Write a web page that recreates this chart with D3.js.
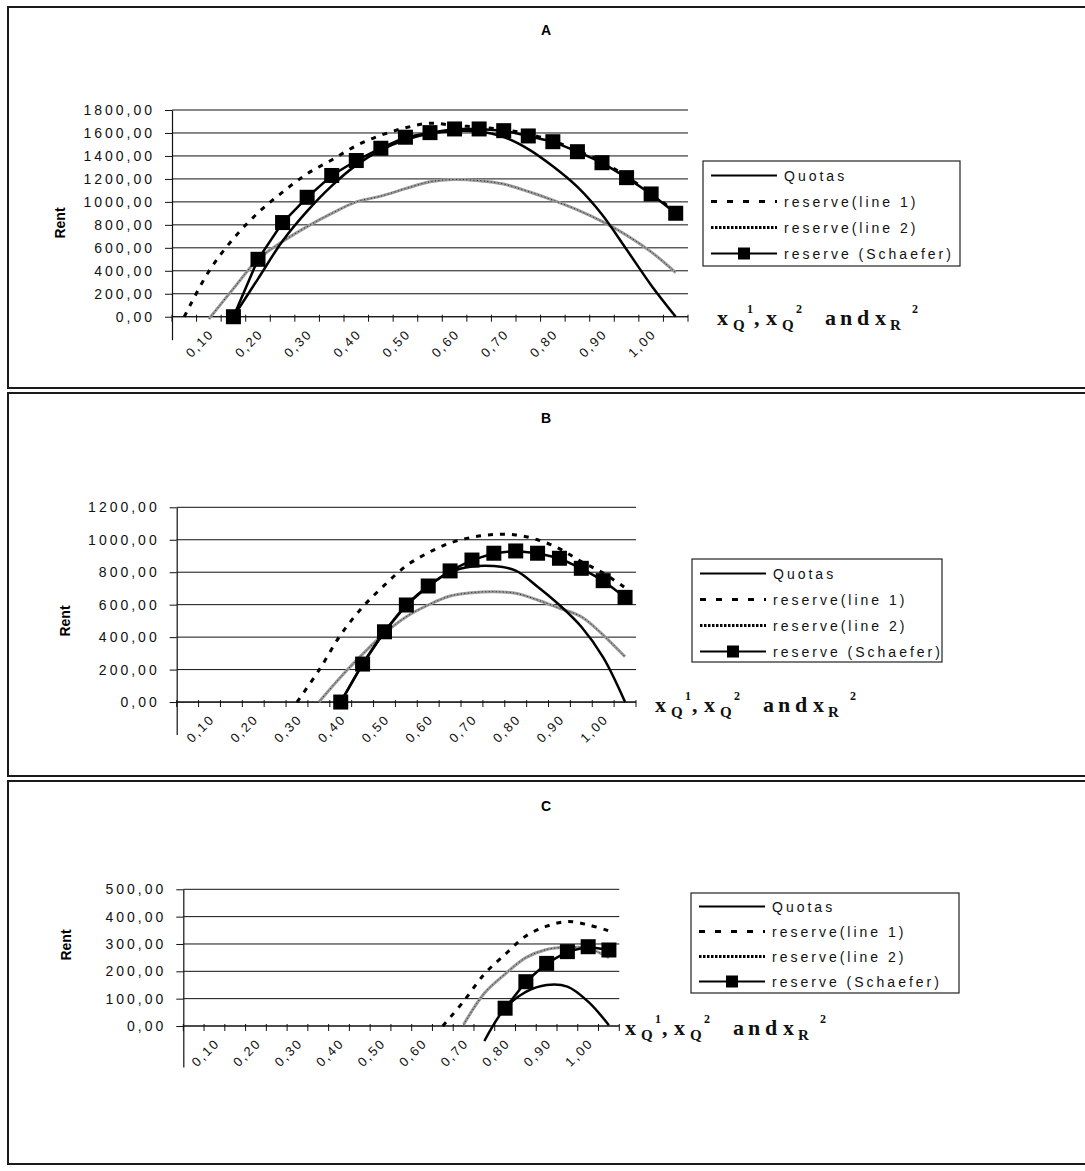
<!DOCTYPE html>
<html><head><meta charset="utf-8">
<script src="https://cdn.jsdelivr.net/npm/d3@7"></script>
<style>body{margin:0;background:#fff} svg{display:block} text{white-space:pre}</style>
</head><body>
<svg id="c" width="1085" height="1171"></svg>
<script>
// ---------- data ----------
const categories = ["0,05","0,10","0,15","0,20","0,25","0,30","0,35","0,40","0,45","0,50","0,55",
                    "0,60","0,65","0,70","0,75","0,80","0,85","0,90","0,95","1,00","1,05"];
const tickLabels = ["0,10","0,20","0,30","0,40","0,50","0,60","0,70","0,80","0,90","1,00"];
const seriesNames = ["Quotas","reserve(line 1)","reserve(line 2)","reserve (Schaefer)"];
const panelTitles = ["A","B","C"];
const yAxisTitle = "Rent";

// Panel A
const yTicksA = [0,200,400,600,800,1000,1200,1400,1600,1800];
const quotasA   = [null,null,0,330,660,920,1140,1320,1450,1540,1595,1618,1612,1565,1460,1310,1130,890,585,275,0];
const line1A    = [0,395,680,905,1085,1245,1365,1490,1580,1645,1685,1665,1650,1630,1590,1530,1445,1350,1220,1075,910];
const line2A    = [null,-20,245,500,655,785,900,1000,1050,1115,1175,1195,1185,1155,1090,1015,930,830,710,565,385];
const schaeferA = [null,null,0,500,820,1040,1230,1360,1467,1563,1603,1635,1635,1620,1574,1524,1437,1341,1211,1069,901];

// Panel B
const yTicksB = [0,200,400,600,800,1000,1200];
const quotasB   = [null,null,null,null,null,null,null,0,234,433,598,715,800,835,838,810,711,598,464,275,0];
const line1B    = [null,null,null,null,null,0,195,415,585,720,840,920,980,1015,1032,1030,1000,945,865,795,705];
const line2B    = [null,null,null,null,null,null,0,155,295,424,526,598,653,674,680,670,629,578,526,413,279];
const schaeferB = [null,null,null,null,null,null,null,0,234,433,598,715,808,875,917,931,917,886,824,748,645];

// Panel C
const yTicksC = [0,100,200,300,400,500];
const quotasC   = [null,null,null,null,null,null,null,null,null,null,null,null,null,null,-55,65,125,150,144,89,3];
const line1C    = [null,null,null,null,null,null,null,null,null,null,null,null,0,90,190,262,329,365,382,370,348];
const line2C    = [null,null,null,null,null,null,null,null,null,null,null,null,null,5,120,190,250,280,288,284,250];
const schaeferC = [null,null,null,null,null,null,null,null,null,null,null,null,null,null,null,65,162,229,272,290,278];

// x-axis title pieces: text, role (main / sub / sup)
const xTitleParts = [["x","main"],["Q","sub"],["1","sup"],[",","main"],["x","main"],["Q","sub"],["2","sup"],
                     ["a","main"],["n","main"],["d","main"],["x","main"],["R","sub"],["2","sup"]];

// ---------- drawing ----------
const svg = d3.select("#c");
const SANS = "'Liberation Sans', Arial, sans-serif";
const SERIF = "'Liberation Serif', 'Times New Roman', serif";

const fmt = d => d.toFixed(2).replace(".", ",");

// layout of x title pieces (offsets from start, px)
const xTitleOffsets = [0, 16, 30, 37, 49, 65, 79, 108, 123, 140, 158, 173, 195];
const roleStyle = {main:{fs:22, dy:0}, sub:{fs:15, dy:5}, sup:{fs:12, dy:-12}};

function drawPanel(cfg) {
  const g = svg.append("g");
  // frame (left, top, bottom)
  g.append("path")
    .attr("d", `M1090,${cfg.top} H8 V${cfg.bottom} H1090`)
    .attr("fill","none").attr("stroke","#1a1a1a").attr("stroke-width",2);

  g.append("text").attr("x", 546).attr("y", cfg.titleY)
    .attr("text-anchor","middle").attr("font-family",SANS).attr("font-weight","bold")
    .attr("font-size",14).text(cfg.title);

  const x = d3.scaleBand().domain(categories).range([cfg.left, cfg.right]).padding(0);
  const cx = c => x(c) + x.bandwidth()/2;
  const y = d3.scaleLinear().domain(cfg.yDomain).range([cfg.yBottom, cfg.yTop]);

  // gridlines
  g.append("g").selectAll("line").data(cfg.yTicks).join("line")
    .attr("x1", cfg.left).attr("x2", cfg.right)
    .attr("y1", d => y(d)).attr("y2", d => y(d))
    .attr("stroke","#111").attr("stroke-width",1);

  // y axis
  const ya = g.append("g").attr("transform", `translate(${cfg.left},0)`)
    .call(d3.axisLeft(y).tickValues(cfg.yTicks).tickSize(7).tickSizeOuter(0).tickPadding(10).tickFormat(fmt));
  ya.select(".domain").attr("stroke","#111").attr("stroke-width",1.2);
  ya.selectAll(".tick line").attr("stroke","#111");
  ya.selectAll(".tick text").attr("font-family",SANS).attr("font-size",14)
    .attr("letter-spacing",3).attr("fill","#111");

  // y title
  g.append("text").attr("transform", `translate(${cfg.rentX},${cfg.rentY}) rotate(-90)`)
    .attr("text-anchor","middle").attr("font-family",SANS).attr("font-weight","bold")
    .attr("font-size",14).text(yAxisTitle);

  // x axis line at 0
  const y0 = y(0);
  g.append("line").attr("x1",cfg.left).attr("x2",cfg.right).attr("y1",y0).attr("y2",y0)
    .attr("stroke","#111").attr("stroke-width",1.2);
  const bounds = categories.map(c => x(c)).concat([cfg.right]);
  g.append("g").selectAll("line").data(bounds).join("line")
    .attr("x1", d => d).attr("x2", d => d).attr("y1", y0 - 2).attr("y2", y0 + 5)
    .attr("stroke","#111");
  g.append("g").selectAll("text").data(categories.filter(c => tickLabels.includes(c))).join("text")
    .attr("transform", c => `translate(${cx(c) + 6},${y0 + 18}) rotate(-45)`)
    .attr("text-anchor","end").attr("font-family",SANS).attr("font-size",13)
    .attr("letter-spacing",2).attr("fill","#111").text(c => c);

  // series
  const mk = (arr) => categories.map((c, i) => ({c, v: arr[i]}));
  const smooth = d3.line().defined(d => d.v != null).x(d => cx(d.c)).y(d => y(d.v)).curve(d3.curveCatmullRom.alpha(0.5));
  const straight = d3.line().defined(d => d.v != null).x(d => cx(d.c)).y(d => y(d.v));

  // line 2 : grey with dotted overlay
  g.append("path").attr("d", smooth(mk(cfg.line2))).attr("fill","none")
    .attr("stroke","#9a9a9a").attr("stroke-width",3);
  g.append("path").attr("d", smooth(mk(cfg.line2))).attr("fill","none")
    .attr("stroke","#222").attr("stroke-width",1).attr("stroke-dasharray","1,2.5");
  // line 1 dashed
  g.append("path").attr("d", smooth(mk(cfg.line1))).attr("fill","none")
    .attr("stroke","#000").attr("stroke-width",3).attr("stroke-dasharray","5,7");
  // quotas
  g.append("path").attr("d", smooth(mk(cfg.quotas))).attr("fill","none")
    .attr("stroke","#000").attr("stroke-width",2.5);
  // schaefer
  g.append("path").attr("d", straight(mk(cfg.schaefer))).attr("fill","none")
    .attr("stroke","#000").attr("stroke-width",2.5);
  const ms = 15;
  g.append("g").selectAll("rect").data(mk(cfg.schaefer).filter(d => d.v != null)).join("rect")
    .attr("x", d => cx(d.c) - ms/2).attr("y", d => y(d.v) - ms/2)
    .attr("width", ms).attr("height", ms).attr("fill","#000");

  // legend
  const L = cfg.legend;
  g.append("rect").attr("x",L.x).attr("y",L.y).attr("width",L.w).attr("height",L.h)
    .attr("fill","#fff").attr("stroke","#222").attr("stroke-width",1.2);
  seriesNames.forEach((name, i) => {
    const ry = L.y + L.first + i * L.step;
    const ln = g.append("line").attr("x1",L.x + 8).attr("x2",L.x + 74).attr("y1",ry).attr("y2",ry).attr("stroke","#000");
    if (i === 0) ln.attr("stroke-width",2);
    if (i === 1) ln.attr("stroke-width",3).attr("stroke-dasharray","6,10");
    if (i === 2) ln.attr("stroke-width",3).attr("stroke-dasharray","2.5,1.5");
    if (i === 3) {
      ln.attr("stroke-width",2);
      g.append("rect").attr("x",L.x + 41 - 6).attr("y",ry - 6).attr("width",12).attr("height",12).attr("fill","#000");
    }
    g.append("text").attr("x",L.x + 81).attr("y",ry + 5).attr("font-family",SANS).attr("font-size",14)
      .attr("letter-spacing",3).attr("fill","#111").text(name);
  });

  // x title
  const tg = g.append("g").attr("font-family",SERIF).attr("font-weight","bold").attr("fill","#111");
  tg.selectAll("text").data(xTitleParts).join("text")
    .attr("x", (d, i) => cfg.xtX + xTitleOffsets[i])
    .attr("y", d => cfg.xtY + roleStyle[d[1]].dy)
    .attr("font-size", d => roleStyle[d[1]].fs)
    .text(d => d[0]);
}

drawPanel({title: panelTitles[0], top:7, bottom:388, titleY:35, left:172, right:688,
  yDomain:[-200,1800], yBottom:339.7, yTop:110, yTicks:yTicksA, rentX:65, rentY:223,
  quotas:quotasA, line1:line1A, line2:line2A, schaefer:schaeferA,
  legend:{x:703, y:161, w:257, h:105, first:14.5, step:26},
  xtX:717, xtY:325});

drawPanel({title: panelTitles[1], top:393, bottom:776, titleY:423, left:176.7, right:636,
  yDomain:[-200,1200], yBottom:734.5, yTop:507.3, yTicks:yTicksB, rentX:70, rentY:621,
  quotas:quotasB, line1:line1B, line2:line2B, schaefer:schaeferB,
  legend:{x:692, y:559, w:250, h:103, first:14.5, step:26},
  xtX:655, xtY:712});

drawPanel({title: panelTitles[2], top:781, bottom:1164, titleY:811, left:183.3, right:619.3,
  yDomain:[-150,500], yBottom:1067, yTop:889.3, yTicks:yTicksC, rentX:71, rentY:945,
  quotas:quotasC, line1:line1C, line2:line2C, schaefer:schaeferC,
  legend:{x:691, y:893, w:268, h:100, first:13.5, step:25},
  xtX:625, xtY:1035});
</script>
</body></html>
